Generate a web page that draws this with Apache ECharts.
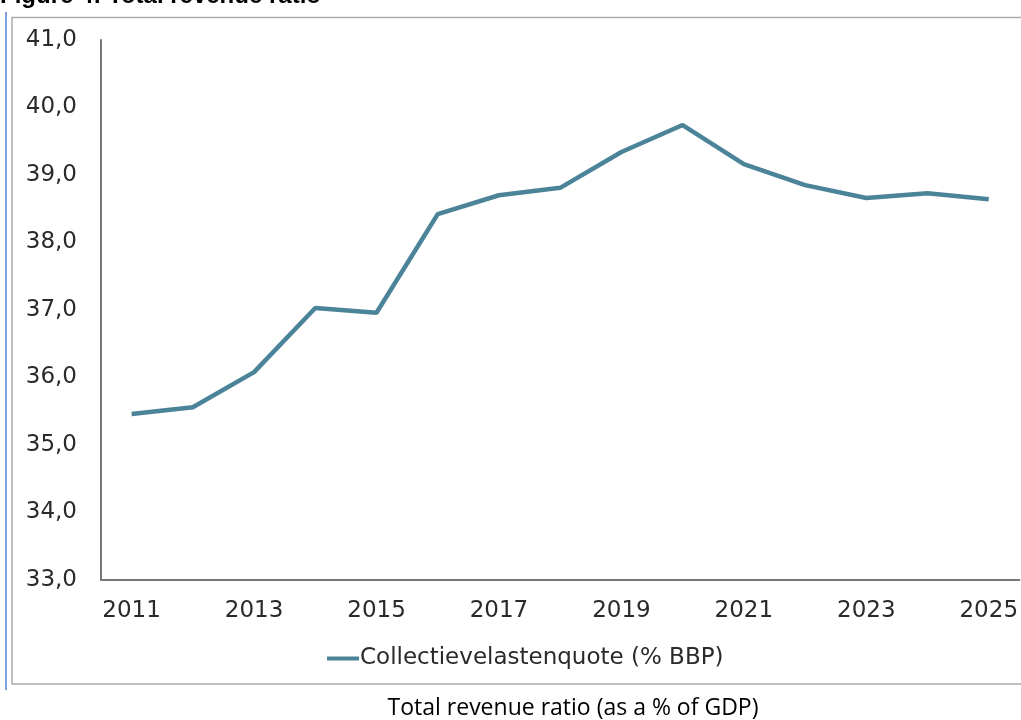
<!DOCTYPE html>
<html>
<head>
<meta charset="utf-8">
<title>Total revenue ratio</title>
<script src="https://cdn.jsdelivr.net/npm/echarts@6/dist/echarts.min.js"></script>
<style>
  html, body { margin: 0; padding: 0; background: #ffffff; }
  #chart { width: 1021px; height: 720px; }
</style>
</head>
<body>
<div id="chart"></div>
<script>
// Years on the horizontal axis
const years = ['2011', '2012', '2013', '2014', '2015', '2016', '2017', '2018',
               '2019', '2020', '2021', '2022', '2023', '2024', '2025'];

// Collectievelastenquote, % of GDP
const revenueRatio = [35.46, 35.56, 36.08, 37.03, 36.96, 38.42, 38.70, 38.81,
                      39.34, 39.74, 39.16, 38.85, 38.66, 38.73, 38.64];

const seriesName = 'Collectievelastenquote (% BBP)';
const titleText = 'Figure 4: Total revenue ratio';
const captionText = 'Total revenue ratio (as a % of GDP)';

const axisFont = 'DejaVu Sans';
const lineColor = '#4b8399';

const chart = echarts.init(document.getElementById('chart'), null, { renderer: 'canvas' });

chart.setOption({
  backgroundColor: '#ffffff',
  animation: false,
  grid: { left: 101, right: 1, top: 40, bottom: 140, containLabel: false },
  xAxis: {
    type: 'category',
    data: years,
    boundaryGap: true,
    axisLine: { show: true, lineStyle: { color: '#777777', width: 2 } },
    axisTick: { show: false },
    splitLine: { show: false },
    axisLabel: {
      interval: 1,
      margin: 20,
      color: '#2a2a2a',
      fontFamily: axisFont,
      fontSize: 23
    }
  },
  yAxis: {
    type: 'value',
    min: 33,
    max: 41,
    interval: 1,
    axisLine: { show: true, lineStyle: { color: '#777777', width: 2 } },
    axisTick: { show: false },
    splitLine: { show: false },
    axisLabel: {
      margin: 24,
      color: '#2a2a2a',
      fontFamily: axisFont,
      fontSize: 23,
      formatter: v => v.toFixed(1).replace('.', ',')
    }
  },
  legend: {
    left: 322,
    top: 642,
    itemWidth: 32,
    itemHeight: 4,
    itemGap: 10,
    icon: 'rect',
    textStyle: {
      color: '#2a2a2a',
      fontFamily: axisFont,
      fontSize: 23,
      padding: [0, 0, 0, -4]
    },
    data: [{ name: seriesName, itemStyle: { color: lineColor } }]
  },
  series: [{
    name: seriesName,
    type: 'line',
    data: revenueRatio,
    symbol: 'none',
    smooth: false,
    clip: false,
    lineStyle: { color: lineColor, width: 4.5 },
    itemStyle: { color: lineColor }
  }],
  graphic: [
    // Frame around the chart
    {
      type: 'rect',
      z: -1,
      shape: { x: 12, y: 17.5, width: 1040, height: 666.5 },
      style: { fill: null, stroke: '#aaaaaa', lineWidth: 1.5 }
    },
    // Blue margin rule on the left
    {
      type: 'line',
      shape: { x1: 6, y1: 12, x2: 6, y2: 690 },
      style: { stroke: '#7f9fe3', lineWidth: 2 }
    },
    // Figure heading (partly above the page edge)
    {
      type: 'text',
      left: 0,
      top: -16,
      style: {
        text: titleText,
        font: 'bold 24px "Liberation Sans", Arial, sans-serif',
        fill: '#000000'
      }
    },
    // Caption beneath the frame
    {
      type: 'text',
      x: 573,
      y: 708,
      style: {
        text: captionText,
        font: '23px "Open Sans", "Liberation Sans", sans-serif',
        fill: '#000000',
        align: 'center',
        verticalAlign: 'middle'
      }
    }
  ]
});
</script>
</body>
</html>
